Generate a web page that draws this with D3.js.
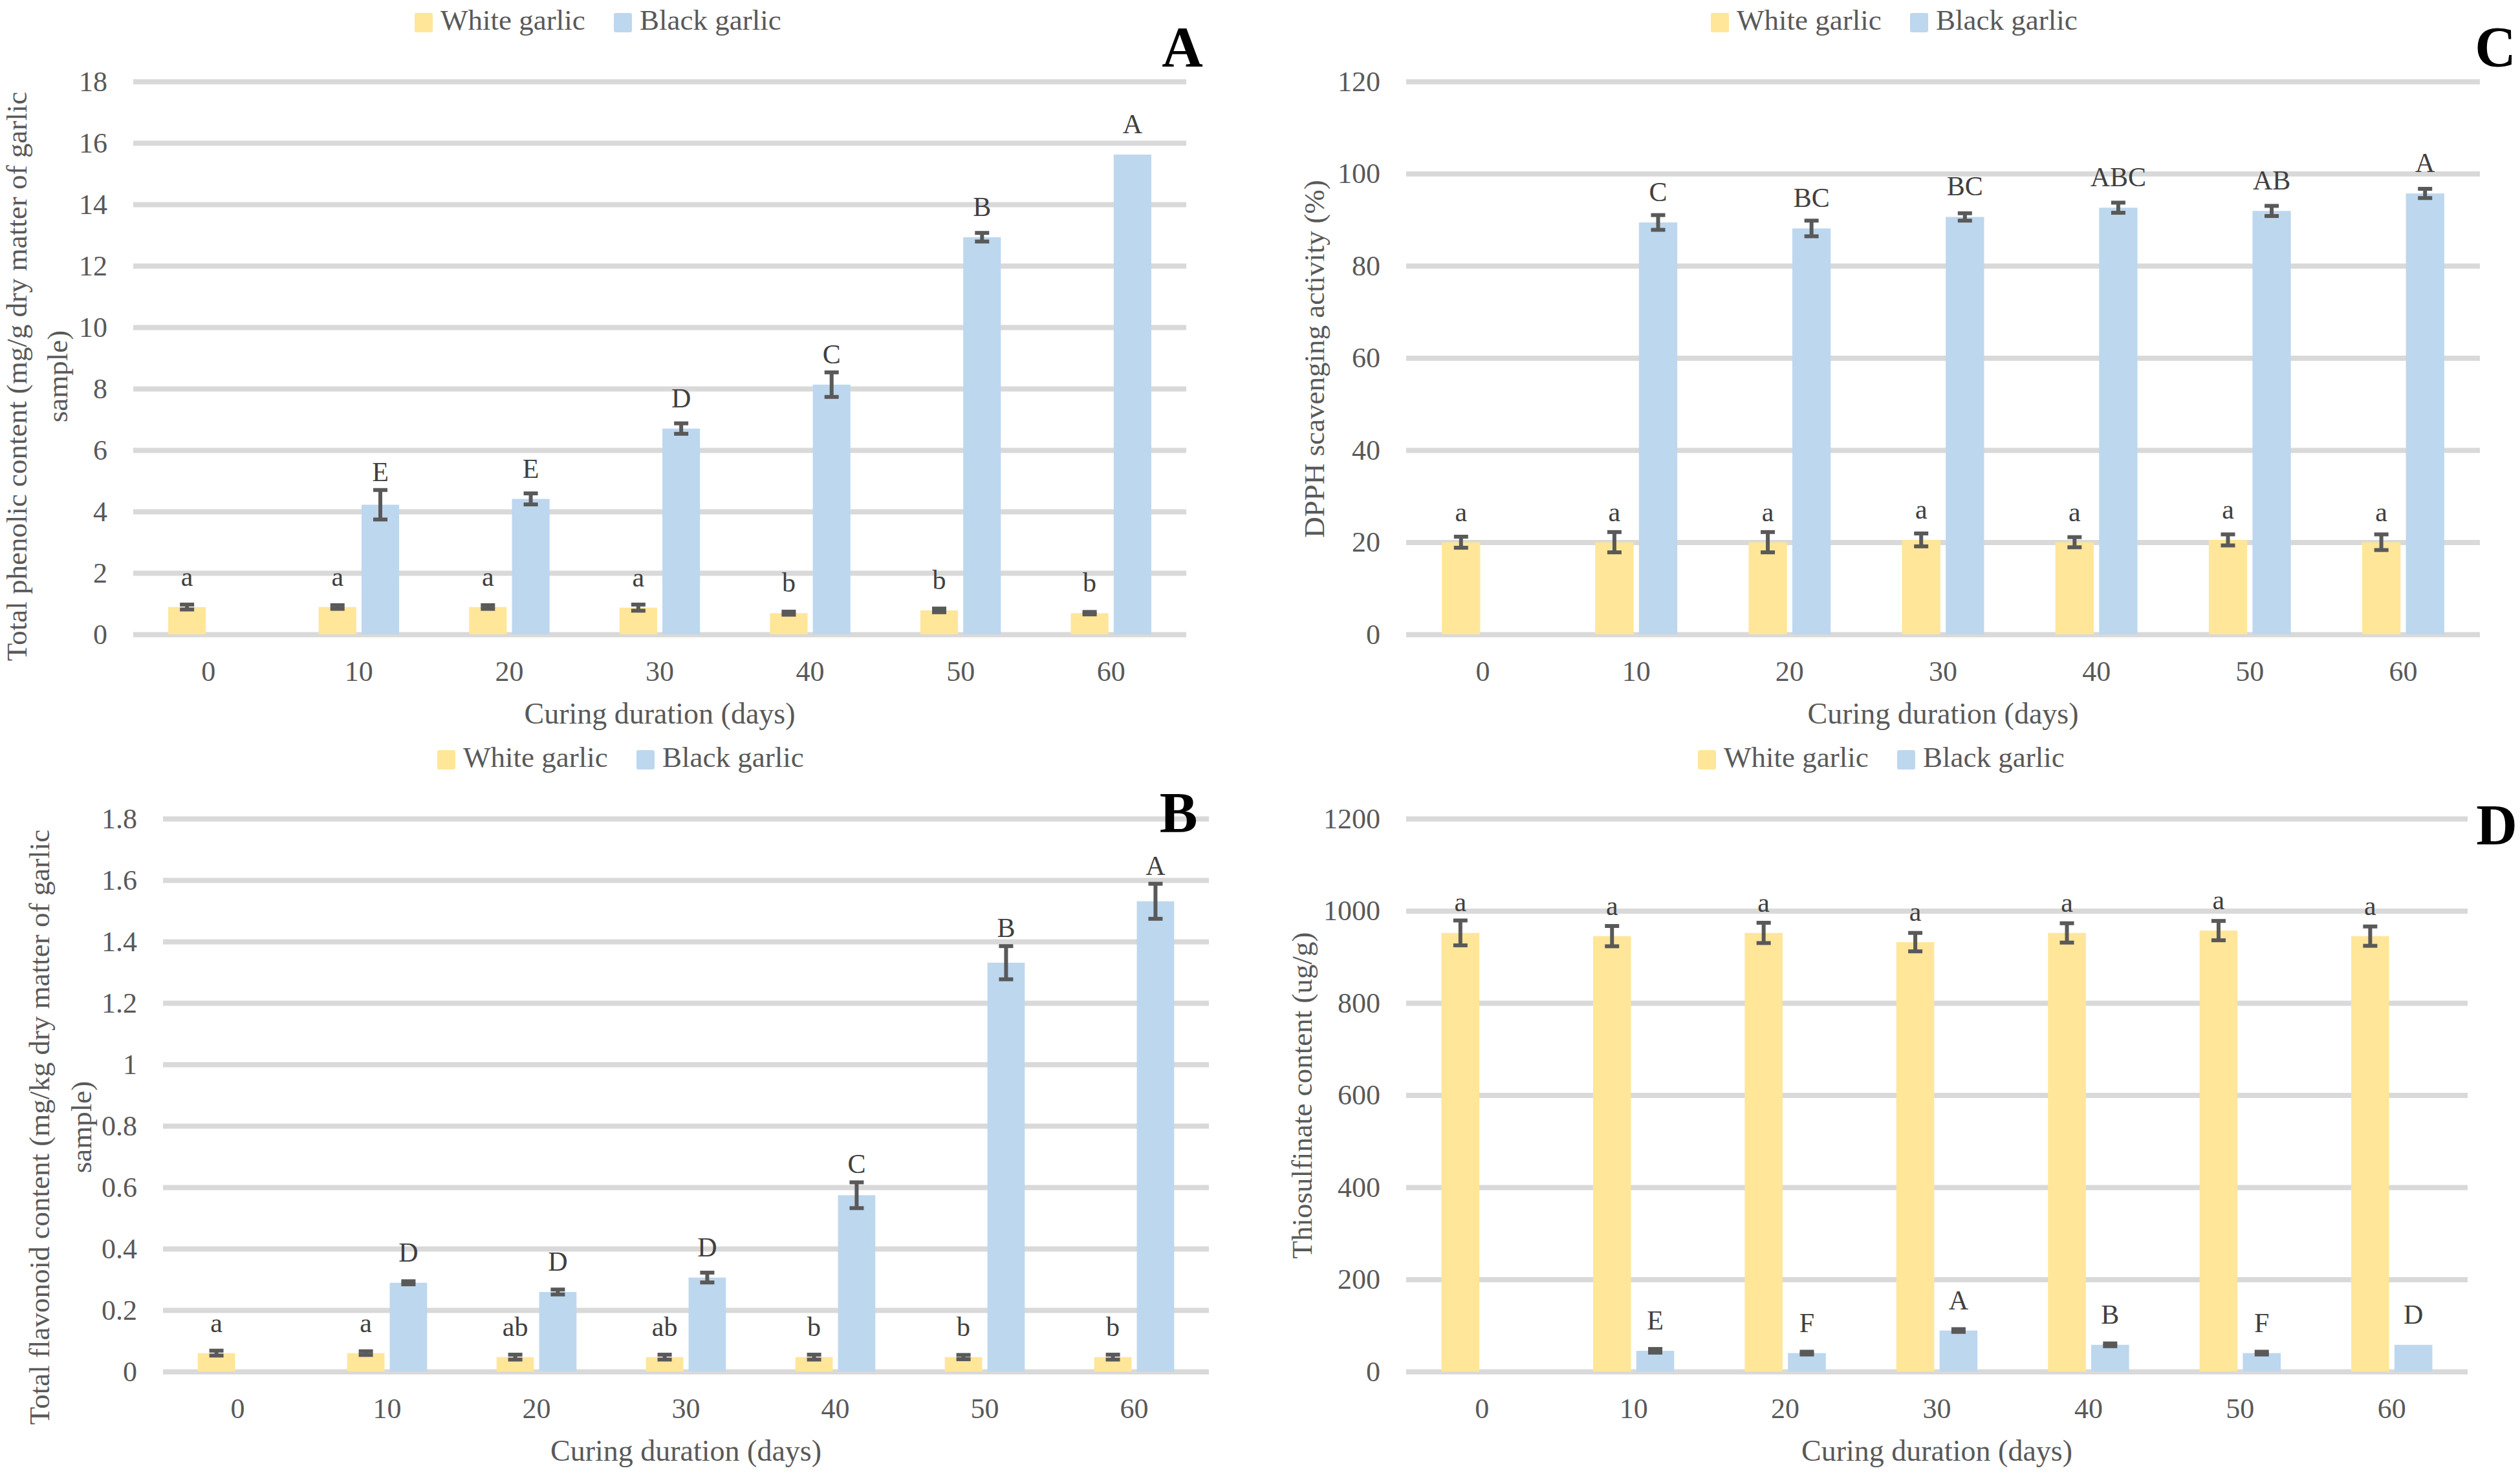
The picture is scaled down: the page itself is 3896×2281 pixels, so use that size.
<!DOCTYPE html>
<html>
<head>
<meta charset="utf-8">
<script src="https://cdn.jsdelivr.net/npm/d3@7/dist/d3.min.js"></script>
<style>
  body { margin: 0; background: #fff; }
  svg { display: block; font-family: "Liberation Serif", "Times New Roman", serif; }
</style>
</head>
<body>
<div id="chart"></div>
<script>
// Shared categories
const days = ["0", "10", "20", "30", "40", "50", "60"];
const seriesNames = ["White garlic", "Black garlic"];

// A: total phenolic content
const phenolWhite = [0.89, 0.89, 0.89, 0.87, 0.69, 0.78, 0.69];
const phenolWhiteErr = [0.08, 0.06, 0.06, 0.10, 0.05, 0.06, 0.04];
const phenolBlack = [null, 4.22, 4.41, 6.70, 8.13, 12.93, 15.62];
const phenolBlackErr = [null, 0.48, 0.18, 0.17, 0.40, 0.14, 0];
const phenolWhiteLbl = ["a", "a", "a", "a", "b", "b", "b"];
const phenolBlackLbl = ["", "E", "E", "D", "C", "B", "A"];
const phenolTicks = [0, 2, 4, 6, 8, 10, 12, 14, 16, 18];

// B: total flavonoid content
const flavWhite = [0.060, 0.060, 0.047, 0.047, 0.047, 0.047, 0.047];
const flavWhiteErr = [0.008, 0.006, 0.008, 0.008, 0.008, 0.007, 0.008];
const flavBlack = [null, 0.289, 0.259, 0.306, 0.574, 1.331, 1.531];
const flavBlackErr = [null, 0.005, 0.008, 0.016, 0.042, 0.054, 0.057];
const flavWhiteLbl = ["a", "a", "ab", "ab", "b", "b", "b"];
const flavBlackLbl = ["", "D", "D", "D", "C", "B", "A"];
const flavTicks = [0, 0.2, 0.4, 0.6, 0.8, 1, 1.2, 1.4, 1.6, 1.8];

// C: DPPH scavenging activity
const dpphWhite = [20.0, 20.0, 20.0, 20.5, 20.0, 20.5, 20.0];
const dpphWhiteErr = [1.2, 2.2, 2.2, 1.4, 1.1, 1.2, 1.7];
const dpphBlack = [null, 89.4, 88.1, 90.6, 92.6, 91.9, 95.7];
const dpphBlackErr = [null, 1.6, 1.7, 0.8, 1.1, 1.1, 1.0];
const dpphWhiteLbl = ["a", "a", "a", "a", "a", "a", "a"];
const dpphBlackLbl = ["", "C", "BC", "BC", "ABC", "AB", "A"];
const dpphTicks = [0, 20, 40, 60, 80, 100, 120];

// D: thiosulfinate content
const thioWhite = [952, 945, 952, 932, 952, 957, 945];
const thioWhiteErr = [27, 22, 22, 20, 21, 21, 21];
const thioBlack = [null, 45, 40, 89, 58, 40, 58];
const thioBlackErr = [null, 4, 3, 3, 3, 3, 0];
const thioWhiteLbl = ["a", "a", "a", "a", "a", "a", "a"];
const thioBlackLbl = ["", "E", "F", "A", "B", "F", "D"];
const thioTicks = [0, 200, 400, 600, 800, 1000, 1200];

const colors = ["#FFE699", "#BDD7EE"];

const svg = d3.select("#chart").append("svg")
    .attr("width", 3896)
    .attr("height", 2281);

svg.append("rect").attr("width", 3896).attr("height", 2281).attr("fill", "#fff");

// Panel layouts (pixel positions only)
const panels = [
    { letter: "A", left: 206, right: 1834, top: 126, bottom: 981,
      legendX: 641, legendY: 20, letterX: 1828, letterY: 102,
      yTitle: ["Total phenolic content (mg/g dry matter of garlic", "sample)"], yTitleX: [41, 104], yTitleY: 582,
      white: phenolWhite, whiteErr: phenolWhiteErr, black: phenolBlack, blackErr: phenolBlackErr,
      whiteLbl: phenolWhiteLbl, blackLbl: phenolBlackLbl, ticks: phenolTicks },
    { letter: "C", left: 2174, right: 3834, top: 126, bottom: 981,
      legendX: 2645, legendY: 20, letterX: 3858, letterY: 102,
      yTitle: ["DPPH scavenging activity (%)"], yTitleX: [2047], yTitleY: 555,
      white: dpphWhite, whiteErr: dpphWhiteErr, black: dpphBlack, blackErr: dpphBlackErr,
      whiteLbl: dpphWhiteLbl, blackLbl: dpphBlackLbl, ticks: dpphTicks },
    { letter: "B", left: 252, right: 1869, top: 1266, bottom: 2121,
      legendX: 676, legendY: 1160, letterX: 1822, letterY: 1286,
      yTitle: ["Total flavonoid content (mg/kg dry matter of garlic", "sample)"], yTitleX: [76, 141], yTitleY: 1743,
      white: flavWhite, whiteErr: flavWhiteErr, black: flavBlack, blackErr: flavBlackErr,
      whiteLbl: flavWhiteLbl, blackLbl: flavBlackLbl, ticks: flavTicks },
    { letter: "D", left: 2174, right: 3815, top: 1266, bottom: 2121,
      legendX: 2625, legendY: 1160, letterX: 3860, letterY: 1305,
      yTitle: ["Thiosulfinate content (ug/g)"], yTitleX: [2028], yTitleY: 1694,
      white: thioWhite, whiteErr: thioWhiteErr, black: thioBlack, blackErr: thioBlackErr,
      whiteLbl: thioWhiteLbl, blackLbl: thioBlackLbl, ticks: thioTicks }
];

panels.forEach(drawPanel);

function drawPanel(p) {
    const width = p.right - p.left;
    const height = p.bottom - p.top;

    const x = d3.scaleBand().domain(days).range([0, width]).padding(0);
    const y = d3.scaleLinear()
        .domain([0, p.ticks[p.ticks.length - 1]])
        .range([height, 0]);

    const g = svg.append("g").attr("transform", `translate(${p.left}, ${p.top})`);

    // gridlines + y tick labels
    const yAxis = g.append("g")
        .call(d3.axisLeft(y).tickValues(p.ticks).tickSize(-width).tickPadding(40)
            .tickFormat(d => String(+d.toFixed(2))));
    yAxis.select(".domain").remove();
    yAxis.selectAll(".tick line").attr("stroke", "#D9D9D9").attr("stroke-width", 8);
    yAxis.selectAll(".tick text")
        .attr("fill", "#595959")
        .style("font-size", "44px")
        .style("font-family", "Liberation Serif, serif");

    // x tick labels
    const xAxis = g.append("g")
        .attr("transform", `translate(0, ${height})`)
        .call(d3.axisBottom(x).tickSize(0).tickPadding(41));
    xAxis.select(".domain").remove();
    xAxis.selectAll(".tick text")
        .attr("fill", "#595959")
        .style("font-size", "44px")
        .style("font-family", "Liberation Serif, serif");

    const bw = x.bandwidth() * 0.25;
    const gap = x.bandwidth() * 0.035;

    const rows = days.map((d, i) => ({
        day: d,
        items: [
            { s: 0, v: p.white[i], e: p.whiteErr[i], lbl: p.whiteLbl[i] },
            { s: 1, v: p.black[i], e: p.blackErr[i], lbl: p.blackLbl[i] }
        ].filter(o => o.v != null)
    }));

    const barX = (d, o) => {
        const c = x(d) + x.bandwidth() / 2;
        return o.s === 0 ? c - gap / 2 - bw : c + gap / 2;
    };

    rows.forEach(r => {
        r.items.forEach(o => {
            const bx = barX(r.day, o);
            g.append("rect")
                .attr("x", bx)
                .attr("y", y(o.v))
                .attr("width", bw)
                .attr("height", height - y(o.v))
                .attr("fill", colors[o.s]);

            const cx = bx + bw / 2;
            if (o.e > 0) {
                const eb = g.append("g")
                    .attr("stroke", "#595959")
                    .attr("stroke-width", 6);
                eb.append("line").attr("x1", cx).attr("x2", cx)
                    .attr("y1", y(o.v + o.e)).attr("y2", y(o.v - o.e));
                eb.append("line").attr("x1", cx - 11).attr("x2", cx + 11)
                    .attr("y1", y(o.v + o.e)).attr("y2", y(o.v + o.e));
                eb.append("line").attr("x1", cx - 11).attr("x2", cx + 11)
                    .attr("y1", y(o.v - o.e)).attr("y2", y(o.v - o.e));
            }

            if (o.lbl) {
                const ly = Math.min(y(o.v) - 33, y(o.v + (o.e || 0)) - 14);
                g.append("text")
                    .attr("x", cx)
                    .attr("y", ly)
                    .attr("text-anchor", "middle")
                    .attr("fill", "#404040")
                    .style("font-size", "42px")
                    .text(o.lbl);
            }
        });
    });

    // x-axis title
    g.append("text")
        .attr("x", width / 2)
        .attr("y", height + 138)
        .attr("text-anchor", "middle")
        .attr("fill", "#595959")
        .style("font-size", "46px")
        .text("Curing duration (days)");

    // y-axis title (rotated, possibly two lines)
    p.yTitle.forEach((t, i) => {
        svg.append("text")
            .attr("transform", `translate(${p.yTitleX[i]}, ${p.yTitleY}) rotate(-90)`)
            .attr("text-anchor", "middle")
            .attr("fill", "#595959")
            .style("font-size", "45px")
            .text(t);
    });

    // legend
    const legend = svg.append("g")
        .attr("transform", `translate(${p.legendX}, ${p.legendY})`);
    seriesNames.forEach((name, i) => {
        const lg = legend.append("g").attr("transform", `translate(${i * 308}, 0)`);
        lg.append("rect")
            .attr("width", 28).attr("height", 30)
            .attr("rx", 3)
            .attr("fill", colors[i]);
        lg.append("text")
            .attr("x", 40)
            .attr("y", 26)
            .attr("fill", "#595959")
            .style("font-size", "45px")
            .text(name);
    });

    // panel letter
    svg.append("text")
        .attr("x", p.letterX)
        .attr("y", p.letterY)
        .attr("text-anchor", "middle")
        .attr("fill", "#000")
        .style("font-size", "88px")
        .style("font-weight", "bold")
        .text(p.letter);
}
</script>
</body>
</html>
